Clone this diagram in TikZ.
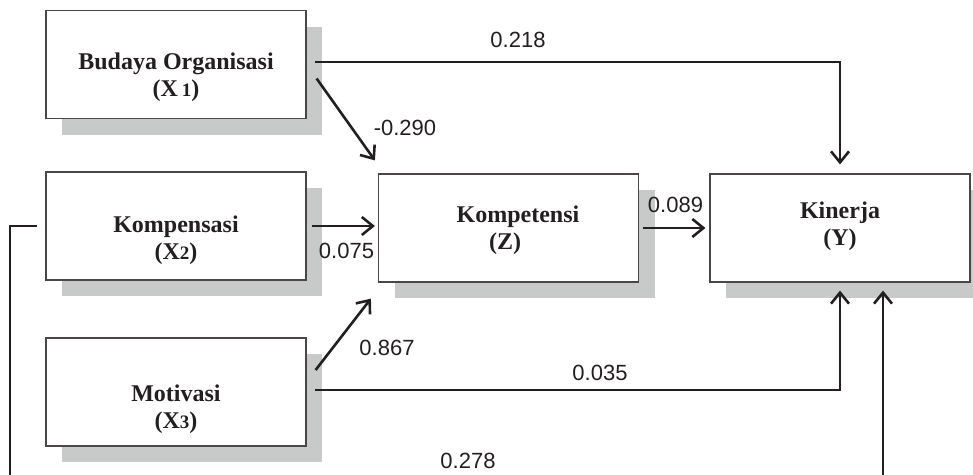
\documentclass[tikz,border=0pt]{standalone}
\usepackage{fontspec}
\setmainfont{Liberation Serif}
\newfontfamily\labfont{Liberation Sans}
\usetikzlibrary{arrows.meta,shadows,calc}
\definecolor{ink}{HTML}{231F20}
\definecolor{shade}{HTML}{C8C9C9}
\definecolor{edge}{HTML}{4A4546}
\tikzset{
  boxnode/.style={draw=edge, line width=1.2pt, fill=white, minimum width=260pt, minimum height=108pt, inner sep=0pt,
    general shadow={fill=shade, shadow xshift=16pt, shadow yshift=-16pt}},
  boxtext/.style={font=\bfseries\fontsize{24}{27}\selectfont, text=ink, align=center, inner sep=0pt},
  lbl/.style={font=\labfont\fontsize{22}{22}\selectfont, text=ink, inner sep=0pt},
  arr/.style={draw=ink, line width=2.6pt, -{Straight Barb[length=11pt,width=18pt,line width=2.6pt]}},
  ln/.style={draw=ink, line width=2.6pt}
}
\newcommand{\smalldig}[1]{{\fontsize{19}{19}\selectfont #1}}
\begin{document}
\begin{tikzpicture}[x=1pt,y=-1pt]
\useasboundingbox (0,0) rectangle (973,474);
% boxes
\node[boxnode] (x1) at (176,64.5) {};
\node[boxnode] (x2) at (176,226) {};
\node[boxnode] (x3) at (176,392) {};
\node[boxnode] (z) at (508.5,228) {};
\node[boxnode] (y) at (840,228) {};
% box texts
\node[boxtext] (x1t) at (176,77) {Budaya Organisasi\\(X\,\smalldig{1})};
\node[boxtext] (x2t) at (176,240) {Kompensasi\\(X\smalldig{2})};
\node[boxtext] (x3t) at (176,409) {Motivasi\\(X\smalldig{3})};
\node[boxtext] (zt) at (505,230) {\hspace*{26pt}Kompetensi\\(Z)};
\node[boxtext] (yt) at (840,226) {Kinerja\\(Y)};
% coordinates
\coordinate (a1s) at ($(x1.east)+(10,14)$);
\coordinate (a1e) at ($(z.north west)+(-3,-13)$);
\coordinate (a3s) at ($(x3.east)+(9,-22)$);
\coordinate (a3e) at ($(z.south west)+(-7,16)$);
\coordinate (bl) at (10,477);
\coordinate (br) at (883,477);
% connectors
\draw[arr, shorten <=8pt, shorten >=9pt] ([yshift=2.5pt]x1.east) -| (y.north);
\draw[arr] (a1s) -- (a1e);
\draw[arr, shorten <=5pt, shorten >=3pt] (x2.east) -- (x2.east -| z.west);
\draw[arr] (a3s) -- (a3e);
\draw[arr, shorten <=8pt, shorten >=8pt] ([yshift=2pt]x3.east) -| (y.south);
\draw[arr, shorten <=4pt, shorten >=4pt] (z.east) -- (z.east -| y.west);
\draw[ln, shorten <=8pt] (x2.west) -| (bl);
\draw[arr, shorten >=8pt] (br) -- (br |- y.south);
% labels
\node[lbl] (l218) at (518,40) {0.218};
\node[lbl] (l290) at (405,128) {-0.290};
\node[lbl] (l075) at (346.5,250.5) {0.075};
\node[lbl] (l089) at (675.5,205) {0.089};
\node[lbl] (l867) at (387,347.5) {0.867};
\node[lbl] (l035) at (600,372.5) {0.035};
\node[lbl] (l278) at (468,461) {0.278};
\end{tikzpicture}
\end{document}
